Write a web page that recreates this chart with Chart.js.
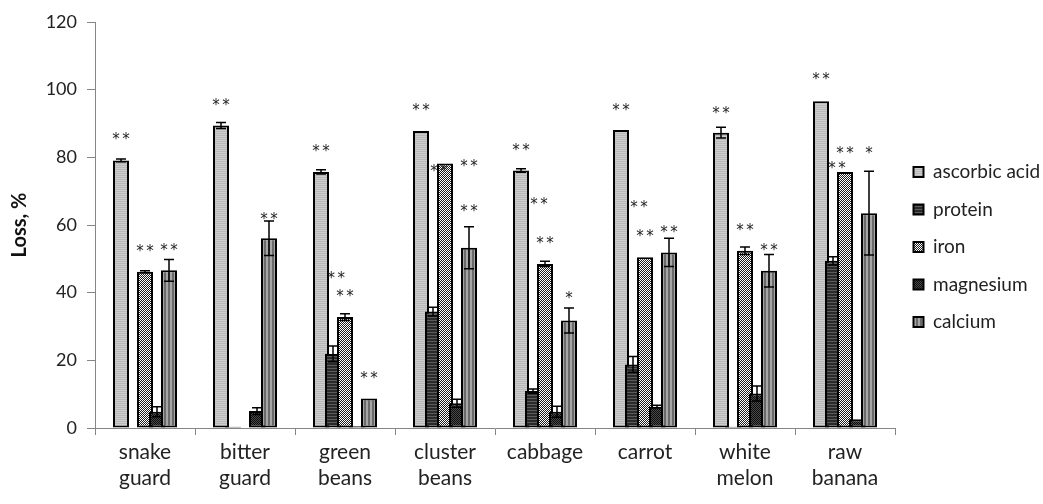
<!DOCTYPE html>
<html>
<head>
<meta charset="utf-8">
<title>Loss, %</title>
<script src="https://cdn.jsdelivr.net/npm/chart.js@4/dist/chart.umd.min.js"></script>
<style>
    body { margin: 0; background: #fff; }
    #wrap { width: 1043px; height: 504px; }
</style>
</head>
<body>
<div id="wrap"><canvas id="lossChart" width="1043" height="504"></canvas></div>
<script>
const categories = [["snake", "guard"], ["bitter", "guard"], ["green", "beans"], ["cluster", "beans"], "cabbage", "carrot", ["white", "melon"], ["raw", "banana"]];
const seriesNames = ["ascorbic acid", "protein", "iron", "magnesium", "calcium"];

const ascorbicAcid = [79.1, 89.4, 75.7, 87.8, 76.1, 88.1, 87.3, 96.6];
const protein = [0, 0.4, 21.9, 34.4, 10.9, 18.8, 0.4, 49.4];
const iron = [46.2, 0, 32.8, 78.2, 48.5, 50.5, 52.4, 75.7];
const magnesium = [4.8, 5.0, 0.5, 7.3, 4.8, 6.3, 10.2, 2.6];
const calcium = [46.6, 56.1, 8.7, 53.3, 31.8, 51.9, 46.5, 63.5];

const ascorbicAcidErr = [0.4, 0.9, 0.6, 0, 0.5, 0, 1.6, 0];
const proteinErr = [0, 0, 2.3, 1.3, 0.6, 2.3, 0, 1.2];
const ironErr = [0.3, 0, 1.0, 0, 0.8, 0, 1.1, 0];
const magnesiumErr = [1.5, 1.0, 0, 1.2, 1.6, 0.4, 2.2, 0];
const calciumErr = [3.2, 5.1, 0, 6.2, 3.7, 4.2, 4.8, 12.4];

// significance marks: [category, bar slot (0 = ascorbic acid ... 4 = calcium), level on the y axis, text]
const stars = [
    [0, 0, 86.3, "**"], [0, 2, 53.2, "**"], [0, 4, 53.5, "**"],
    [1, 0, 96.4, "**"], [1, 4, 62.8, "**"],
    [2, 0, 82.8, "**"], [2, 1.27, 45.2, "**"], [2, 2, 39.9, "**"], [2, 4, 15.7, "**"],
    [3, 0, 94.9, "**"], [3, 1.5, 76.9, "**"], [3, 4, 78.3, "**"], [3, 4, 65.0, "**"],
    [4, 0, 83.2, "**"], [4, 1.5, 67.1, "**"], [4, 2, 55.6, "**"], [4, 4, 39.3, "*"],
    [5, 0, 94.9, "**"], [5, 1.5, 66.2, "**"], [5, 2, 57.6, "**"], [5, 4, 58.8, "**"],
    [6, 0, 94.0, "**"], [6, 2, 59.4, "**"], [6, 4, 53.5, "**"],
    [7, 0, 104.0, "**"], [7, 1.33, 77.7, "**"], [7, 2, 82.2, "**"], [7, 4, 82.2, "*"]
];

const yMin = 0;
const yMax = 120;
const yStep = 20;

const axisGray = "#868686";
const canvas = document.getElementById("lossChart");
const ctx = canvas.getContext("2d");

// small pixel tiles, repeated as fill patterns (Excel style hatching)
function makePattern(w, h, pixels) {
    const tile = document.createElement("canvas");
    tile.width = w;
    tile.height = h;
    const g = tile.getContext("2d");
    pixels.forEach((col, i) => {
        g.fillStyle = col;
        g.fillRect(i % w, Math.floor(i / w), 1, 1);
    });
    return ctx.createPattern(tile, "repeat");
}

const fills = [
    makePattern(1, 2, ["#cdcdcd", "#b8b8b8"]),
    makePattern(1, 3, ["#2a2a2a", "#2a2a2a", "#5c5c5c"]),
    makePattern(2, 2, ["#ffffff", "#1e1e1e", "#1e1e1e", "#ffffff"]),
    makePattern(2, 2, ["#0c0c0c", "#4a4a4a", "#4a4a4a", "#0c0c0c"]),
    makePattern(4, 1, ["#6a6a6a", "#6a6a6a", "#a6a6a6", "#a6a6a6"])
];

const values = [ascorbicAcid, protein, iron, magnesium, calcium];
const errors = [ascorbicAcidErr, proteinErr, ironErr, magnesiumErr, calciumErr];

const barsAndMarks = {
    id: "barsAndMarks",
    beforeDatasetsDraw(chart) {
        // later series are painted over the earlier ones
        chart.getSortedVisibleDatasetMetas().forEach((meta) => meta.controller.draw());
        return false;
    },
    afterDraw(chart) {
        const c = chart.ctx;
        const yScale = chart.scales.y;
        c.save();
        c.strokeStyle = "#000";
        c.lineWidth = 1.5;
        errors.forEach((errs, s) => {
            const meta = chart.getDatasetMeta(s);
            meta.data.forEach((bar, i) => {
                const e = errs[i];
                if (!e) return;
                const v = values[s][i];
                const top = yScale.getPixelForValue(v + e);
                const bottom = yScale.getPixelForValue(v - e);
                c.beginPath();
                c.moveTo(bar.x, top);
                c.lineTo(bar.x, bottom);
                c.moveTo(bar.x - 5, top);
                c.lineTo(bar.x + 5, top);
                c.moveTo(bar.x - 5, bottom);
                c.lineTo(bar.x + 5, bottom);
                c.stroke();
            });
        });

        c.font = "15px 'DejaVu Sans'";
        c.fillStyle = "#222";
        c.textAlign = "center";
        c.textBaseline = "alphabetic";
        const m = c.measureText("*");
        const shift = (m.actualBoundingBoxAscent - m.actualBoundingBoxDescent) / 2;
        stars.forEach(([cat, slot, level, text]) => {
            const first = chart.getDatasetMeta(0).data[cat];
            const second = chart.getDatasetMeta(1).data[cat];
            const x = first.x + slot * (second.x - first.x);
            const y = yScale.getPixelForValue(level);
            for (let k = 0; k < text.length; k++) {
                c.fillText("*", x + (k - (text.length - 1) / 2) * 10, y + shift);
            }
        });
        c.restore();
    }
};

Chart.defaults.font.family = "Lato, 'Open Sans', sans-serif";
Chart.defaults.color = "#222";

new Chart(canvas, {
    type: "bar",
    data: {
        labels: categories,
        datasets: seriesNames.map((name, s) => ({
            label: name,
            data: values[s],
            backgroundColor: fills[s],
            borderColor: "#000",
            borderWidth: 2,
            borderSkipped: false,
            categoryPercentage: 0.6,
            barPercentage: 1.333
        }))
    },
    options: {
        responsive: false,
        animation: false,
        layout: { padding: { top: 22, left: 0, right: 0, bottom: 0 } },
        plugins: {
            tooltip: { enabled: false },
            legend: {
                position: "right",
                fullSize: false,
                maxWidth: 148,
                title: {
                    display: true,
                    text: "",
                    font: { size: 10 },
                    padding: { top: 16, bottom: 16 }
                },
                labels: {
                    boxWidth: 10,
                    boxHeight: 10,
                    padding: 18.5,
                    color: "#222",
                    font: { size: 19 }
                }
            }
        },
        scales: {
            x: {
                grid: {
                    offset: true,
                    drawOnChartArea: false,
                    tickLength: 7,
                    color: axisGray
                },
                border: { color: axisGray },
                ticks: {
                    padding: 5,
                    maxRotation: 0,
                    autoSkip: false,
                    color: "#222",
                    font: { size: 21 }
                },
                afterFit(scale) { scale.height = 76; }
            },
            y: {
                min: yMin,
                max: yMax,
                grid: {
                    drawOnChartArea: false,
                    tickLength: 8,
                    color: axisGray
                },
                border: { color: axisGray },
                ticks: {
                    stepSize: yStep,
                    padding: 10,
                    color: "#222",
                    font: { size: 18 }
                },
                title: {
                    display: true,
                    text: "Loss, %",
                    color: "#111",
                    padding: { top: 8, bottom: 0 },
                    font: { size: 20, weight: "bold" }
                },
                afterFit(scale) { scale.width = 95; }
            }
        }
    },
    plugins: [barsAndMarks]
});
</script>
</body>
</html>
